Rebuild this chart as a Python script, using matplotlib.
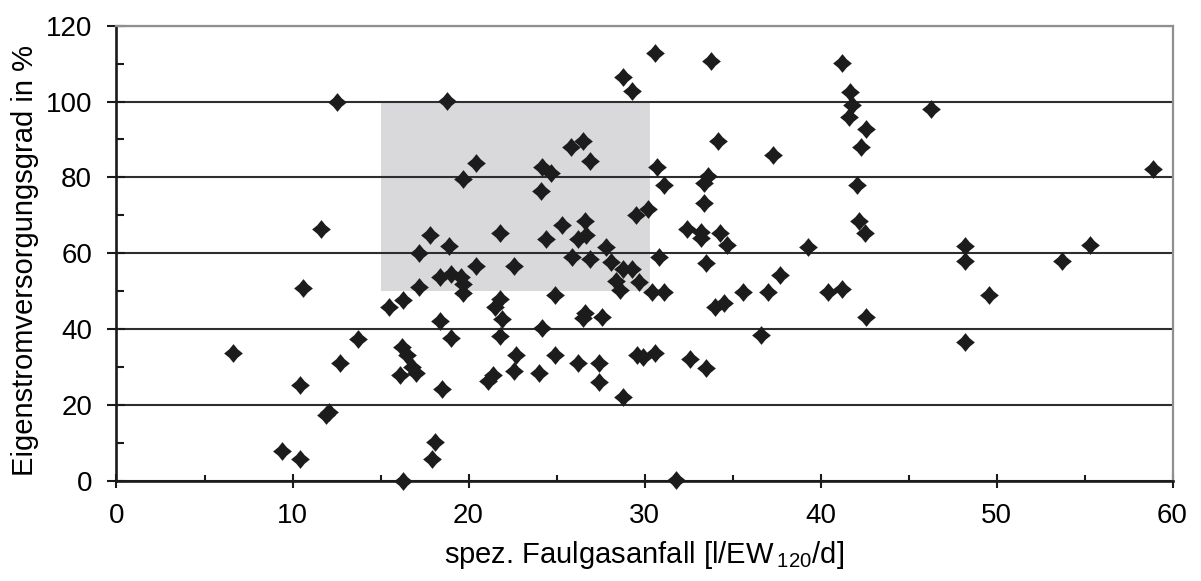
import matplotlib
matplotlib.use("Agg")
import matplotlib.pyplot as plt
from matplotlib.path import Path
from matplotlib.ticker import MultipleLocator

# ---- data ----
gas = [6.6, 9.4, 10.4, 10.4, 10.6, 11.6, 12.5, 12.7, 13.7, 12.1, 11.9, 15.5, 16.3, 16.2,
       16.5, 16.8, 17.0, 16.1, 16.3, 17.2, 17.2, 17.8, 18.1, 17.9, 18.5, 18.4, 19.0, 18.4,
       19.0, 19.6, 19.7, 19.7, 18.9, 18.8, 19.7, 20.4, 20.4, 21.8, 22.6, 21.8, 21.5, 21.9,
       21.8, 22.7, 22.6, 21.4, 21.1, 24.0, 24.2, 24.9, 24.9, 24.1, 24.2, 24.7, 24.4, 25.3,
       25.8, 26.5, 26.9, 26.6, 26.2, 26.7, 25.9, 26.9, 26.2, 26.6, 26.5, 27.8, 28.1, 27.6,
       27.4, 27.4, 28.8, 29.3, 28.4, 28.6, 29.7, 28.8, 28.8, 29.3, 29.5, 30.2, 29.6, 29.9,
       30.6, 30.4, 30.6, 30.7, 31.1, 30.8, 31.1, 31.8, 32.4, 32.6, 33.2, 33.2, 33.6, 33.4,
       33.4, 33.5, 33.5, 33.8, 34.0, 34.5, 34.2, 34.3, 34.7, 35.6, 36.6, 37.0, 37.3, 37.7,
       39.3, 40.4, 41.2, 41.2, 41.7, 41.8, 41.6, 42.6, 42.3, 42.1, 42.2, 42.5, 42.6, 46.3,
       48.2, 48.2, 48.2, 49.6, 53.7, 55.3, 58.9]
grad = [33.6, 7.8, 5.6, 25.2, 50.9, 66.3, 100.0, 31.0, 37.3, 18.1, 17.3, 45.7, 47.7, 35.2,
        33.2, 30.1, 28.3, 27.9, 0.0, 60.0, 51.2, 64.8, 10.3, 5.6, 24.2, 42.1, 37.7, 53.8,
        54.5, 53.8, 51.8, 49.4, 62.0, 100.2, 79.5, 83.8, 56.5, 65.4, 56.5, 47.9, 45.9, 42.6,
        38.3, 33.2, 28.9, 27.9, 26.3, 28.3, 40.4, 48.9, 33.2, 76.4, 82.8, 81.1, 63.7, 67.5,
        88.0, 89.6, 84.3, 68.6, 63.7, 64.8, 59.1, 58.5, 31.0, 44.3, 43.0, 61.7, 57.8, 43.1,
        31.0, 26.1, 55.8, 55.8, 52.8, 50.3, 52.5, 22.2, 106.5, 102.8, 70.1, 71.6, 33.2, 32.6,
        33.6, 49.9, 112.8, 82.8, 78.0, 58.9, 49.9, 0.2, 66.3, 32.0, 65.5, 64.0, 80.4, 78.6,
        73.2, 57.4, 29.8, 110.7, 45.7, 46.8, 89.5, 65.3, 62.1, 49.9, 38.4, 49.9, 85.9, 54.3,
        61.7, 49.9, 50.5, 110.1, 102.4, 99.1, 95.9, 92.7, 88.0, 78.0, 68.6, 65.3, 43.1, 98.1,
        62.0, 58.0, 36.7, 48.9, 58.0, 62.2, 82.2]
box_x = [15.0, 30.3]
box_y = [50.0, 100.0]
x_ticks = [0, 10, 20, 30, 40, 50, 60]
y_ticks = [0, 20, 40, 60, 80, 100, 120]

plt.rcParams['font.family'] = ['Liberation Sans', 'DejaVu Sans']
plt.rcParams['mathtext.fontset'] = 'custom'
plt.rcParams['mathtext.rm'] = 'Liberation Sans'
plt.rcParams['mathtext.it'] = 'Liberation Sans'

fig = plt.figure(figsize=(12.01, 5.81), dpi=100)
ax = fig.add_axes([0.0970, 0.1726, 0.8793, 0.7831])

# highlighted area
ax.fill_between(box_x, box_y[0], box_y[1], color='#d9d9db', linewidth=0, zorder=0.8)

# slightly concave diamond marker
k = 0.45
verts = [(0, 1), (k, k), (1, 0), (k, -k), (0, -1), (-k, -k), (-1, 0), (-k, k), (0, 1)]
codes = [Path.MOVETO] + [Path.LINETO] * 7 + [Path.CLOSEPOLY]
diamond = Path(verts, codes)

ax.plot(gas, grad, linestyle='none', marker=diamond, markersize=13.5,
        color='#1c1c1c', markeredgewidth=0, zorder=3, clip_on=False)

ax.set_xlim(0, 60)
ax.set_ylim(0, 120)
ax.set_xticks(x_ticks)
ax.set_yticks(y_ticks)
ax.xaxis.set_minor_locator(MultipleLocator(5))
ax.yaxis.set_minor_locator(MultipleLocator(10))

ax.set_axisbelow('line')
ax.grid(axis='y', which='major', color='#2e2e2e', linewidth=1.5)

for s in ['left', 'bottom']:
    ax.spines[s].set_color('#1a1a1a')
    ax.spines[s].set_linewidth(1.9)
for s in ['top', 'right']:
    ax.spines[s].set_color('#8f8f8f')
    ax.spines[s].set_linewidth(1.6)

ax.tick_params(axis='y', which='major', direction='inout', length=13, width=1.5,
               color='#1a1a1a', pad=11, labelsize=20, right=False)
ax.tick_params(axis='y', which='minor', direction='in', length=5.5, width=1.5,
               color='#1a1a1a', right=False)
ax.tick_params(axis='x', which='major', direction='inout', length=10, width=1.5,
               color='#1a1a1a', pad=11, labelsize=20, top=False)
ax.tick_params(axis='x', which='minor', direction='in', length=4.5, width=1.5,
               color='#1a1a1a', top=False)

ax.set_xlabel(r'spez. Faulgasanfall [l/EW$\,_{\mathrm{120}}$/d]', fontsize=21, labelpad=7)
ax.set_ylabel('Eigenstromversorgungsgrad in %', fontsize=21)
ax.yaxis.set_label_coords(-0.0734, 0.485)

fig.savefig('out.png', dpi=100)
